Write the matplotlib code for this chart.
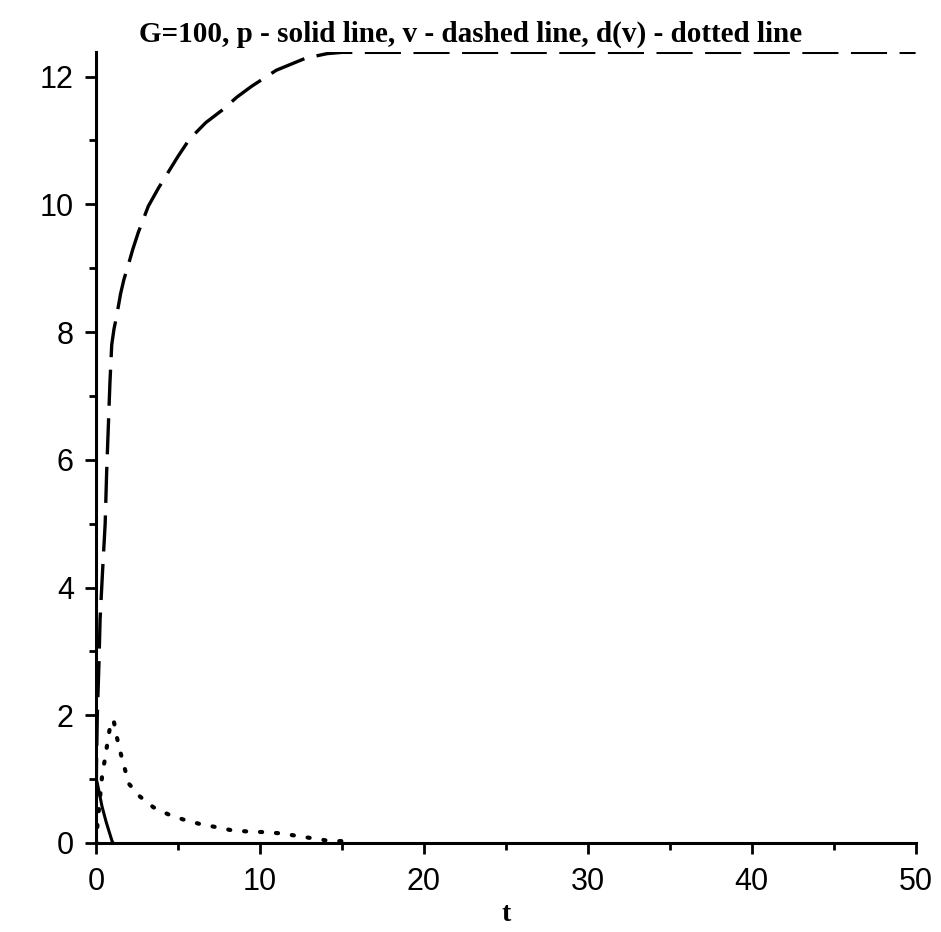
import matplotlib
matplotlib.use("Agg")
import matplotlib.pyplot as plt
from matplotlib.ticker import MultipleLocator

# p - solid line
t_p = [0.0, 0.07, 0.37, 0.62, 0.98, 1.05]
p = [1.0, 0.95, 0.57, 0.33, 0.03, 0.0]

# v - dashed line
t_v = [0.0, 0.03, 0.08, 0.18, 0.25, 0.4, 0.56, 0.65, 0.75, 0.85, 0.96, 1.1, 1.26,
       1.5, 1.7, 1.97, 2.25, 2.58, 3.19, 3.8, 4.4, 5.0, 5.7, 6.7, 7.77, 8.6, 9.5,
       11.0, 12.8, 14.1, 15.0, 20.0, 30.0, 40.0, 50.0]
v = [0.0, 1.2, 2.0, 2.8, 3.5, 4.25, 5.0, 5.8, 6.5, 7.2, 7.8, 8.05, 8.25,
     8.6, 8.82, 9.05, 9.3, 9.56, 9.97, 10.25, 10.5, 10.75, 11.02, 11.28, 11.49, 11.68, 11.85,
     12.1, 12.29, 12.36, 12.38, 12.38, 12.38, 12.38, 12.38]

# d(v) - dotted line
t_d = [0.0, 0.1, 0.38, 0.55, 0.7, 0.87, 1.07, 1.28, 1.48, 1.73, 2.0, 2.67, 3.5,
       4.4, 5.3, 6.3, 7.3, 8.26, 9.25, 10.3, 11.3, 12.3, 13.3, 14.3, 15.3, 15.5]
d = [0.0, 0.32, 1.07, 1.32, 1.57, 1.84, 1.93, 1.65, 1.43, 1.19, 0.93, 0.73, 0.56,
     0.45, 0.37, 0.30, 0.25, 0.20, 0.18, 0.17, 0.15, 0.11, 0.07, 0.03, 0.03, 0.0]

plt.rcParams["lines.scale_dashes"] = False

fig = plt.figure(figsize=(9.41, 9.32), dpi=100)
ax = fig.add_axes([0.102, 0.0955, 0.871, 0.849])

ax.plot(t_p, p, color="black", lw=2.2, solid_capstyle="butt")
ax.plot(t_v, v, color="black", lw=2.4, linestyle=(0, (26, 9)))
ax.plot(t_d, d, color="black", lw=3.0, linestyle=(0, (1.5, 10)),
        dash_capstyle="round")

ax.set_xlim(0, 50)
ax.set_ylim(0, 12.39)

for side in ["top", "right"]:
    ax.spines[side].set_visible(False)
for side in ["left", "bottom"]:
    ax.spines[side].set_linewidth(2.2)

ax.xaxis.set_major_locator(MultipleLocator(10))
ax.xaxis.set_minor_locator(MultipleLocator(5))
ax.yaxis.set_major_locator(MultipleLocator(2))
ax.yaxis.set_minor_locator(MultipleLocator(1))
ax.tick_params(which="major", length=8, width=2, pad=8, labelsize=22)
ax.tick_params(axis="x", which="major", pad=9)
ax.tick_params(which="minor", length=5, width=2)
for lab in ax.get_xticklabels() + ax.get_yticklabels():
    lab.set_family("Liberation Sans")

ax.set_xlabel("t", fontsize=20, family="Liberation Serif", fontweight="bold",
              labelpad=4)
fig.text(0.5, 0.963, "G=100, p - solid line, v - dashed line, d(v) - dotted line",
         ha="center", va="center", fontsize=21, family="Liberation Serif",
         fontweight="bold")

fig.savefig("out.png", dpi=100)
